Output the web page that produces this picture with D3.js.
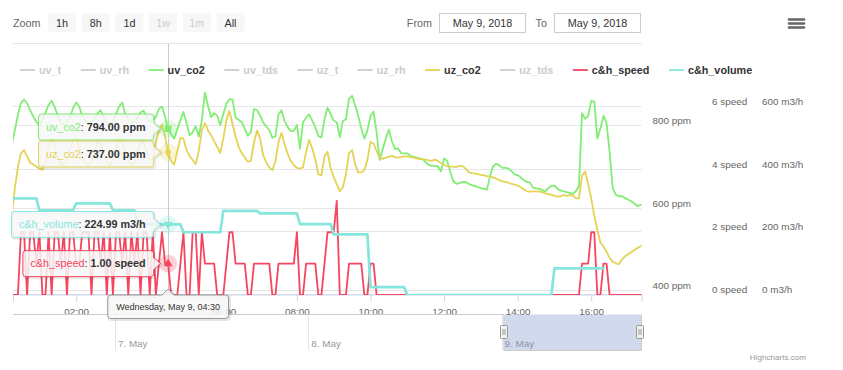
<!DOCTYPE html>
<html>
<head>
<meta charset="utf-8">
<script src="https://cdn.jsdelivr.net/npm/d3@7"></script>
<style>
  body { margin: 0; background: #ffffff; }
  svg text { font-family: "Liberation Sans", Arial, Helvetica, sans-serif; }
</style>
</head>
<body>
<div id="container"></div>
<script>
/*
 readings every 5 minutes on 9 May 2018, first one at 00:15
 */
let startTime = "2018-05-09T00:15:00Z";
let stepMinutes = 5;

let uvCo2 = [755,790,828,857,865,856,839,824,811,801,
  815,833,852,862,847,826,808,803,808,823,
  844,858,848,825,812,808,809,819,832,839,
  822,809,801,812,829,848,858,830,816,810,
  809,822,834,838,820,810,815,823,842,848,
  824,794,780,770,793,815,835,808,778,786,
  800,775,815,882,850,822,832,826,803,830,
  855,866,865,821,816,810,794,777,786,842,
  839,826,809,800,791,772,776,829,839,812,
  798,789,789,803,746,810,821,829,814,798,
  776,773,817,845,830,814,810,773,813,817,
  866,874,851,825,795,770,790,825,836,785,
  718,745,770,792,763,745,746,735,734,734,
  729,726,724,722,720,713,706,704,704,703,
  690,722,716,690,667,660,662,665,665,660,
  657,655,652,650,648,646,679,703,709,705,
  699,699,697,691,683,681,676,669,665,663,
  651,649,648,645,642,650,655,656,648,644,
  642,640,638,636,642,655,832,818,825,862,
  860,770,795,826,807,738,650,634,630,630,
  626,622,618,613,606,609,610];

let uzCo2 = [580,650,700,735,742,726,712,707,702,697,
  694,715,750,770,752,725,708,705,718,745,
  768,772,748,722,710,706,715,740,762,758,
  732,712,705,718,748,770,765,735,714,706,
  712,738,760,762,738,718,722,760,790,804,
  775,737,715,707,740,772,770,742,728,718,
  708,740,790,808,790,778,764,750,735,770,
  815,838,805,775,750,735,724,714,716,760,
  790,770,730,712,700,693,715,762,784,756,
  733,716,706,699,697,700,738,767,746,720,
  683,681,727,738,698,676,660,642,652,684,
  735,742,708,688,688,693,718,762,758,740,
  724,721,724,726,728,725,724,725,727,727,
  725,724,722,720,720,719,717,716,719,716,
  710,706,703,702,702,701,704,704,697,689,
  686,685,684,682,681,679,678,676,673,669,
  666,665,663,660,658,656,652,647,642,641,
  642,642,641,640,637,635,634,631,629,630,
  633,631,633,632,625,625,680,690,660,625,
  582,548,517,508,495,480,471,467,465,476,
  484,489,494,499,504,508,512];

let chSpeed = [0,0,0,2,2,0,2,2,1,2,
  0,0,2,0,2,2,1,2,0,2,
  2,1,1,2,2,2,0,2,2,1,
  2,0,2,0,2,2,1,2,0,2,
  1,2,0,2,2,0,2,0,1,2,
  1,1,0,0,0,1,2,0,0,2,
  2,0,2,1,1,1,1,0,0,0,
  1,2,2,1,1,1,1,0,0,1,
  1,1,1,1,1,0,0,1,1,1,
  1,1,1,2,0,0,1,1,1,1,
  0,0,1,2,2,2,3,0,0,0,
  1,1,1,1,1,0,0,1,1,0,
  0,0,0,0,0,0,0,0,0,0,
  0,0,0,0,0,0,0,0,0,0,
  0,0,0,0,0,0,0,0,0,0,
  0,0,0,0,0,0,0,0,0,0,
  0,0,0,0,0,0,0,0,0,0,
  0,0,0,0,0,0,0,0,0,0,
  0,0,0,0,0,0,1,1,1,2,
  2,0,0,1,1,0,0,0,0,0,
  0,0,0,0,0,0,0];

// null = no reading
let chVolume = [308,308,308,308,308,308,308,308,308,270,
  270,270,270,270,270,270,270,270,270,270,
  270,292,292,292,292,292,292,292,292,292,
  292,292,292,270,270,270,270,270,270,270,
  270,224.99,224.99,224.99,224.99,224.99,224.99,224.99,224.99,224.99,
  224.99,224.99,224.99,224.99,224.99,224.99,200,200,200,200,
  200,200,200,200,200,200,200,200,200,268,
  268,268,268,268,268,268,268,268,268,268,
  268,260,260,260,260,260,260,260,260,260,
  260,260,260,260,226,226,226,226,226,226,
  226,226,226,226,226,193,193,193,193,193,
  193,193,193,193,193,193,193,25,25,25,
  25,25,25,25,25,25,25,25,25,0,
  0,0,0,0,0,0,0,0,0,0,
  0,0,0,0,0,0,0,0,0,0,
  0,0,0,0,0,0,0,0,0,0,
  0,0,0,0,0,0,0,0,0,0,
  0,0,0,0,0,0,0,85,85,85,
  85,85,85,85,85,85,85,85,85,85,
  85,85,85,85,null,null,null,null,null,null,
  null,null,null,null,null,null,null];

let legendNames = ["uv_t", "uv_rh", "uv_co2", "uv_tds", "uz_t", "uz_rh", "uz_co2", "uz_tds", "c&h_speed", "c&h_volume"];
let legendShown = [false, false, true, false, false, false, true, false, true, true];

let ppmTicks = [400, 600, 800];
let speedTicks = [0, 2, 4, 6];
let volumeTicks = [0, 200, 400, 600];
let zoomButtons = ["1h", "8h", "1d", "1w", "1m", "All"];
let zoomEnabled = [true, true, true, false, false, true];

let viewStart = "2018-05-09T00:17:00Z", viewEnd = "2018-05-09T17:22:00Z";
let navStart = "2018-05-06T11:21:00Z";
let hoverTime = "2018-05-09T04:30:00Z";

let colors = {"uv_co2": "#80ee74", "uz_co2": "#e4d354", "c&h_speed": "#f5455f", "c&h_volume": "#84e6dc"};

let w = 843, h = 370;
let plot = {left: 13, right: 641.5, top: 44, bottom: 295};

let parse = d3.isoParse;
let t0 = parse(startTime);
let times = d3.range(uvCo2.length).map(i => new Date(t0.getTime() + i * stepMinutes * 60000));

let x = d3.scaleUtc().domain([parse(viewStart), parse(viewEnd)]).range([plot.left, plot.right]);
let yPpm = d3.scaleLinear().domain([390, 1000]).range([plot.bottom, plot.top]);
let ySpeed = d3.scaleLinear().domain([0, 8]).range([plot.bottom, plot.top]);
let yVolume = d3.scaleLinear().domain([0, 800]).range([plot.bottom, plot.top]);
let xNav = d3.scaleUtc().domain([parse(navStart), parse(viewEnd)]).range([plot.left, plot.right]);

let series = [
  {name: "uv_co2", values: uvCo2, y: yPpm, unit: "ppm", width: 1.8, symbol: d3.symbolSquare},
  {name: "uz_co2", values: uzCo2, y: yPpm, unit: "ppm", width: 1.8, symbol: d3.symbolDiamond},
  {name: "c&h_speed", values: chSpeed, y: ySpeed, unit: "speed", width: 1.8, symbol: d3.symbolTriangle},
  {name: "c&h_volume", values: chVolume, y: yVolume, unit: "m3/h", width: 2.7, symbol: d3.symbolTriangle, flip: true}
];

let svg = d3.select("div#container").append("svg")
    .attr("width", w).attr("height", h)
    .style("background-color", "#ffffff");

svg.append("defs").append("clipPath").attr("id", "plotclip")
    .append("rect")
    .attr("x", plot.left).attr("y", plot.top)
    .attr("width", plot.right - plot.left).attr("height", plot.bottom - plot.top);

/*
 range selector, date inputs and export menu
 */
let header = svg.append("g");
header.append("text").attr("x", 13).attr("y", 27).attr("font-size", "10.8px").attr("fill", "#666666").text("Zoom");
let btn = header.selectAll("g.btn").data(zoomButtons).enter().append("g")
    .attr("class", "btn")
    .attr("transform", (d, i) => "translate(" + (48 + i * 33.7) + ",13)");
btn.append("rect").attr("width", 28).attr("height", 19).attr("rx", 2).attr("fill", "#f7f7f7");
btn.append("text").attr("x", 14).attr("y", 13.5).attr("text-anchor", "middle")
    .attr("font-size", "10.8px")
    .attr("fill", (d, i) => zoomEnabled[i] ? "#333333" : "#cccccc")
    .text(d => d);

let dateFmt = d3.utcFormat("%b %-d, %Y");
let inputs = [{label: "From", date: parse(viewStart), lx: 432, bx: 439.5}, {label: "To", date: parse(viewEnd), lx: 547, bx: 554.5}];
inputs.forEach(o => {
    header.append("text").attr("x", o.lx).attr("y", 26.5).attr("text-anchor", "end")
        .attr("font-size", "10.8px").attr("fill", "#666666").text(o.label);
    header.append("rect").attr("x", o.bx).attr("y", 13.5).attr("width", 86).attr("height", 19)
        .attr("fill", "#ffffff").attr("stroke", "#cccccc");
    header.append("text").attr("x", o.bx + 43).attr("y", 27).attr("text-anchor", "middle")
        .attr("font-size", "10.8px").attr("fill", "#333333").text(dateFmt(o.date));
});
[19.5, 23.5, 27.5].forEach(yy => {
    header.append("line").attr("x1", 789).attr("x2", 804).attr("y1", yy).attr("y2", yy)
        .attr("stroke", "#666666").attr("stroke-width", 2.6).attr("stroke-linecap", "round");
});

/*
 grid lines and axis labels, one set per y axis
 */
let grid = svg.append("g");
let gridSets = [
  {scale: yPpm, ticks: ppmTicks.concat([1000])},
  {scale: ySpeed, ticks: speedTicks.concat([8])}
];
gridSets.forEach(s => {
    grid.selectAll(null).data(s.ticks).enter().append("line")
        .attr("x1", plot.left).attr("x2", plot.right)
        .attr("y1", d => Math.round(s.scale(d)) - 0.5)
        .attr("y2", d => Math.round(s.scale(d)) - 0.5)
        .attr("stroke", "#e6e6e6").attr("stroke-width", 1);
});
let labelSets = [
  {scale: yPpm, ticks: ppmTicks, x: 652.5, unit: "ppm"},
  {scale: ySpeed, ticks: speedTicks, x: 712, unit: "speed"},
  {scale: yVolume, ticks: volumeTicks, x: 762, unit: "m3/h"}
];
labelSets.forEach(s => {
    grid.selectAll(null).data(s.ticks).enter().append("text")
        .attr("x", s.x).attr("y", d => s.scale(d) - 2)
        .attr("font-size", "9.9px").attr("fill", "#666666")
        .text(d => d + " " + s.unit);
});

// x axis, the 04:00 label sits under the tooltip header so it is left out
let hi = times.findIndex(t => t.getTime() === parse(hoverTime).getTime());
let hx = x(times[hi]);
let xAxis = d3.axisBottom(x).ticks(d3.utcHour.every(2)).tickSize(7).tickPadding(6)
    .tickFormat(d => Math.abs(x(d) - hx) < 40 ? "" : d3.utcFormat("%H:%M")(d));
let xg = svg.append("g").attr("transform", "translate(0," + (plot.bottom - 0.5) + ")").call(xAxis);
xg.attr("font-family", null);
xg.select(".domain").attr("stroke", "#ccd6eb");
xg.selectAll(".tick line").attr("stroke", "#ccd6eb");
xg.selectAll(".tick text").attr("font-size", "9.9px").attr("fill", "#666666");
xg.selectAll(".tick").filter(d => x(d) < plot.left || x(d) > plot.right).remove();

// crosshair
svg.append("line").attr("x1", Math.round(hx) + 0.5).attr("x2", Math.round(hx) + 0.5)
    .attr("y1", plot.top).attr("y2", plot.bottom)
    .attr("stroke", "#cccccc").attr("stroke-width", 1);

/*
 series lines
 */
let lines = svg.append("g").attr("clip-path", "url(#plotclip)");
series.forEach(s => {
    let line = d3.line()
        .defined(d => d.v !== null)
        .x(d => x(d.t))
        .y(d => s.y(d.v));
    lines.append("path")
        .datum(s.values.map((v, i) => ({t: times[i], v: v})))
        .attr("d", line)
        .attr("fill", "none")
        .attr("stroke", colors[s.name])
        .attr("stroke-width", s.width)
        .attr("stroke-linejoin", "round")
        .attr("stroke-linecap", "round");
});

// hover markers
let marks = svg.append("g");
series.forEach(s => {
    let my = s.y(s.values[hi]);
    marks.append("circle").attr("cx", hx).attr("cy", my).attr("r", 9)
        .attr("fill", colors[s.name]).attr("fill-opacity", 0.25);
    marks.append("path")
        .attr("d", d3.symbol().type(s.symbol).size(s.symbol === d3.symbolSquare ? 42 : 34)())
        .attr("transform", "translate(" + hx + "," + my + ")" + (s.flip ? " rotate(180)" : ""))
        .attr("fill", colors[s.name]);
});

/*
 legend, floating at the top of the plot
 */
let legend = svg.append("g");
let lx = 20;
legendNames.forEach((name, i) => {
    let on = legendShown[i];
    let g = legend.append("g").attr("transform", "translate(" + lx + ",0)");
    g.append("line").attr("x1", 0).attr("x2", 15).attr("y1", 70).attr("y2", 70)
        .attr("stroke", on ? colors[name] : "#cccccc").attr("stroke-width", 1.8);
    let t = g.append("text").attr("x", 19).attr("y", 74)
        .attr("font-size", "10.8px").attr("font-weight", "bold")
        .attr("fill", on ? "#333333" : "#cccccc").text(name);
    lx += 19 + t.node().getComputedTextLength() + 19.5;
});

/*
 navigator
 */
let nav = svg.append("g");
let navTop = 314.5, navBottom = 350.5;
let days = d3.utcDay.range(xNav.domain()[0], xNav.domain()[1]);
nav.selectAll(null).data(days).enter().append("line")
    .attr("x1", d => Math.round(xNav(d)) + 0.5).attr("x2", d => Math.round(xNav(d)) + 0.5)
    .attr("y1", navTop).attr("y2", navBottom)
    .attr("stroke", "#e6e6e6");
nav.selectAll(null).data(days).enter().append("text")
    .attr("x", d => xNav(d) + 3).attr("y", 347)
    .attr("font-size", "9.9px").attr("fill", "#999999")
    .text(d3.utcFormat("%-d. %b"));
let m0 = xNav(parse(viewStart)), m1 = xNav(parse(viewEnd));
nav.append("rect").attr("x", m0).attr("y", navTop).attr("width", m1 - m0).attr("height", navBottom - navTop)
    .attr("fill", "rgba(102,133,194,0.3)");
nav.append("path")
    .attr("d", "M" + plot.left + "," + navTop + "H" + m0 + "V" + navBottom + "H" + m1 + "V" + navTop + "H" + plot.right)
    .attr("fill", "none").attr("stroke", "#cccccc");
[m0, m1 - 2].forEach(hxh => {
    let g = nav.append("g").attr("transform", "translate(" + Math.round(hxh) + ",325)");
    g.append("rect").attr("x", -3.5).attr("y", 0.5).attr("width", 7).attr("height", 13).attr("rx", 1)
        .attr("fill", "#f2f2f2").attr("stroke", "#999999");
    g.append("path").attr("d", "M-1,4V10M1,4V10").attr("stroke", "#999999");
});

svg.append("text").attr("x", 806).attr("y", 360).attr("text-anchor", "end")
    .attr("font-size", "8.1px").attr("fill", "#999999").text("Highcharts.com");

/*
 split tooltip: one callout per series, header under the x axis
 */
function callout(bx, by, bw, bh, tipX, tipY) {
    let r = 3, a = 6;
    let ya = Math.max(by + r, Math.min(by + bh - r - 2 * a, tipY - a));
    return "M" + (bx + r) + "," + by + "H" + (bx + bw - r) + "Q" + (bx + bw) + "," + by + " " + (bx + bw) + "," + (by + r)
        + "V" + ya + "L" + tipX + "," + tipY + "L" + (bx + bw) + "," + (ya + 2 * a)
        + "V" + (by + bh - r) + "Q" + (bx + bw) + "," + (by + bh) + " " + (bx + bw - r) + "," + (by + bh)
        + "H" + (bx + r) + "Q" + bx + "," + (by + bh) + " " + bx + "," + (by + bh - r)
        + "V" + (by + r) + "Q" + bx + "," + by + " " + (bx + r) + "," + by + "Z";
}

let tip = svg.append("g");
let boxH = 26;
let boxes = series.map(s => ({s: s, v: s.values[hi], py: s.y(s.values[hi])}));
boxes.forEach(b => b.cy = b.py);
boxes.sort((a, b) => a.py - b.py);
for (let k = 1; k < boxes.length; k++) {
    let gap = boxes[k].cy - boxes[k - 1].cy - (boxH + 1);
    if (gap < 0) {
        boxes[k - 1].cy += gap / 2;
        boxes[k].cy -= gap / 2;
    }
}
boxes.forEach(b => {
    let g = tip.append("g");
    let t = g.append("text").attr("y", b.cy + 3.8).attr("font-size", "10.8px").attr("fill", "#333333");
    t.append("tspan").attr("fill", colors[b.s.name]).text(b.s.name);
    t.append("tspan").text(": ");
    t.append("tspan").attr("font-weight", "bold").text(b.v.toFixed(2) + " " + b.s.unit);
    let tw = t.node().getComputedTextLength();
    let right = hx - 14.5, bw = tw + 15.5, bx = right - bw, by = b.cy - boxH / 2;
    let d = callout(bx, by, bw, boxH, hx - 7.5, b.py);
    g.insert("path", "text").attr("d", d).attr("transform", "translate(1,1)")
        .attr("fill", "none").attr("stroke", "rgba(0,0,0,0.08)").attr("stroke-width", 3);
    g.insert("path", "text").attr("d", d)
        .attr("fill", "rgba(247,247,247,0.85)").attr("stroke", colors[b.s.name]);
    t.attr("x", bx + 7.5);
});

// header
let hg = tip.append("g");
let ht = hg.append("text").attr("x", hx).attr("y", 310).attr("text-anchor", "middle")
    .attr("font-size", "9px").attr("fill", "#333333")
    .text(d3.utcFormat("%A, %b %-d, %H:%M")(times[hi]));
let hw = ht.node().getComputedTextLength() + 17;
let hbx = hx - hw / 2, hby = 295, hbh = 23.5;
let hd = "M" + (hbx + 3) + "," + hby + "H" + (hx - 6) + "L" + hx + "," + (hby - 6) + "L" + (hx + 6) + "," + hby
    + "H" + (hbx + hw - 3) + "Q" + (hbx + hw) + "," + hby + " " + (hbx + hw) + "," + (hby + 3)
    + "V" + (hby + hbh - 3) + "Q" + (hbx + hw) + "," + (hby + hbh) + " " + (hbx + hw - 3) + "," + (hby + hbh)
    + "H" + (hbx + 3) + "Q" + hbx + "," + (hby + hbh) + " " + hbx + "," + (hby + hbh - 3)
    + "V" + (hby + 3) + "Q" + hbx + "," + hby + " " + (hbx + 3) + "," + hby + "Z";
hg.insert("path", "text").attr("d", hd).attr("transform", "translate(1,1)")
    .attr("fill", "none").attr("stroke", "rgba(0,0,0,0.1)").attr("stroke-width", 3);
hg.insert("path", "text").attr("d", hd)
    .attr("fill", "rgba(247,247,247,0.85)").attr("stroke", "#999999");
</script>
</body>
</html>
